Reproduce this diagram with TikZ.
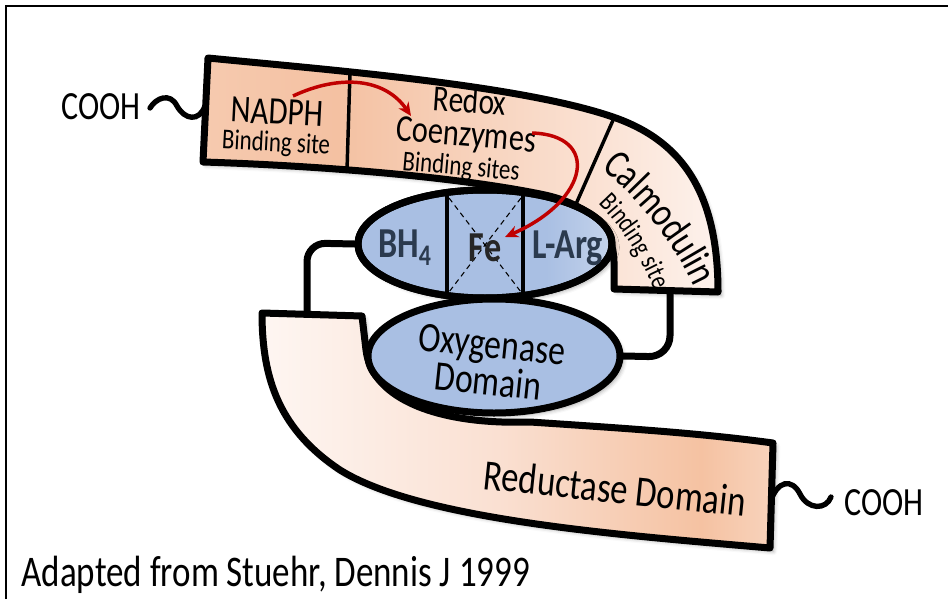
\documentclass[tikz,border=0pt]{standalone}
\usepackage{fontspec}
\setmainfont{Carlito}[FakeStretch=0.8]
\usetikzlibrary{shapes.geometric,arrows.meta,shadows.blur,decorations.text}
\definecolor{tbA}{HTML}{F6CAAF}
\definecolor{tbB}{HTML}{F4C1A2}
\definecolor{tbC}{HTML}{FBE4D7}
\definecolor{tbD}{HTML}{FDF2EC}
\definecolor{rbA}{HTML}{FEF6F2}
\definecolor{rbB}{HTML}{FAE0D2}
\definecolor{rbC}{HTML}{F5C2A2}
\definecolor{rbD}{HTML}{F8D3BC}
\definecolor{ellblue}{HTML}{A9BFE3}
\definecolor{ellL}{HTML}{C4D3EB}
\definecolor{darkred}{HTML}{C00000}
\definecolor{slate}{HTML}{2B3A4E}
\pgfdeclarehorizontalshading{topband}{100bp}{color(0bp)=(tbA); color(25bp)=(tbA); color(38bp)=(tbB); color(65bp)=(tbC); color(75bp)=(tbD); color(100bp)=(tbD)}
\pgfdeclarehorizontalshading{redband}{100bp}{color(0bp)=(rbA); color(25bp)=(rbA); color(48bp)=(rbB); color(68bp)=(rbC); color(75bp)=(rbD); color(100bp)=(rbD)}
\pgfdeclarehorizontalshading{topell}{100bp}{color(0bp)=(ellblue); color(62bp)=(ellblue); color(75bp)=(ellL); color(100bp)=(ellL)}
\pgfdeclarelayer{back}
\pgfdeclarelayer{mid}
\pgfsetlayers{back,mid,main}
\newcommand\setfs[1]{\fontsize{#1}{#1}\selectfont}
\newcommand\calmfont{\fontsize{31}{31}\selectfont}
\newcommand\calmbfont{\fontsize{20.5}{20.5}\selectfont}
\tikzset{
  outline/.style={draw=black, line width=5.25pt, line join=round},
  conn/.style={draw=black, line width=5.25pt, line cap=round},
  tail/.style={draw=black, line width=4pt, line cap=round},
  divider/.style={draw=black, line width=2.6pt},
  boxline/.style={draw=black, line width=3pt},
  diag/.style={draw=black, line width=0.8pt, dash pattern=on 4pt off 3pt},
  redarrow/.style={draw=darkred, line width=2.6pt, -{Stealth[length=10pt,width=9pt]}},
  softshadow/.style={blur shadow={shadow xshift=2.5pt, shadow yshift=-2.5pt, shadow blur radius=3pt, shadow opacity=35}},
  lbl/.style={inner sep=1pt, text=black},
  elllbl/.style={inner sep=1pt, text=slate, font=\bfseries\setfs{32}},
}
\begin{document}
\begin{tikzpicture}[x=0.75pt, y=-0.75pt]
\useasboundingbox (0,0) rectangle (948,599);
% frame
\draw[line width=1.5pt] (6,599) -- (6,6) -- (948,6);

% ellipses (main layer)
\node[ellipse, outline, softshadow, shading=topell, minimum width=190.5pt, minimum height=81pt, inner sep=0pt] (top) at (485,244) {};
\node[ellipse, outline, softshadow, fill=ellblue, minimum width=189pt, minimum height=85.5pt, inner sep=0pt] (oxy) at (494,356) {};

% Fe box
\coordinate (bxTL) at (447,193);
\coordinate (bxBL) at (447,296);
\coordinate (bxTR) at (523,193);
\coordinate (bxBR) at (523,296);
\draw[diag] (449,198) -- (521,292);
\draw[diag] (521,198) -- (449,292);
\draw[boxline] (bxTL) -- (bxBL);
\draw[boxline] (bxTR) -- (bxBR);
\draw[outline] (top.center) ellipse [x radius=127, y radius=54];

% bands (mid layer)
\begin{pgfonlayer}{mid}
\shadedraw[outline, softshadow, shading=redband]
  (262,313) -- (362,316) -- (366,350)
  .. controls (372,400) and (440,425) .. (530,422)
  .. controls (620,428) and (700,433) .. (773,443)
  -- (770,548)
  .. controls (620,535) and (420,520) .. (340,470)
  .. controls (280,430) and (262,380) .. cycle;
\shadedraw[outline, softshadow, shading=topband]
  (208,58) .. controls (330,70) and (520,85) .. (613,117)
  .. controls (680,140) and (718,190) .. (718,292)
  -- (614,289) -- (614,262)
  .. controls (614,230) and (590,205) .. (545,195)
  .. controls (450,175) and (300,165) .. (203,162) -- cycle;
\coordinate (d1t) at (350,72);
\coordinate (d1b) at (347,170);
\coordinate (d2t) at (614,118);
\coordinate (d2b) at (576,204);
\draw[divider] (d1t) -- (d1b);
\draw[divider] (d2t) -- (d2b);
\end{pgfonlayer}

% connectors and tails (back layer)
\coordinate (bhJoin) at (307,318);
\coordinate (cmJoin) at (670,288);
\coordinate (tailL) at (205,106);
\coordinate (tailLend) at (150,108);
\coordinate (tailR) at (770,503);
\coordinate (tailRend) at (831,497);
\begin{pgfonlayer}{back}
\draw[conn, rounded corners=14pt] (top.west) -- (307,243) -- (bhJoin);
\draw[conn, rounded corners=16pt] (cmJoin) -- (670,357) -- (oxy.east);
\draw[tail] (tailL) .. controls (199,122) and (185,120) .. (177,106)
  .. controls (170,92) and (156,98) .. (tailLend);
\draw[tail] (tailR) .. controls (777,480) and (792,478) .. (800,494)
  .. controls (808,510) and (826,510) .. (tailRend);
\end{pgfonlayer}

% texts
\node[lbl, font=\setfs{30}] (coohL) at (101,107) {COOH};
\node[lbl, font=\setfs{30}] (coohR) at (884,503) {COOH};
\node[lbl, font=\setfs{29}, rotate=-3] (nadph) at (277,112) {NADPH};
\node[lbl, font=\setfs{21.5}, rotate=-3] (nadphb) at (276,144) {Binding site};
\node[lbl, font=\setfs{27.5}, rotate=-4] (redox) at (470,100) {Redox};
\node[lbl, font=\setfs{28.5}, rotate=-5] (coenz) at (466,137) {Coenzymes};
\node[lbl, font=\setfs{21.5}, rotate=-5] (coenzb) at (461,168) {Binding sites};
\path[decorate, decoration={text along path, text={|\calmfont|Calmodulin}, text align=center}]
  (585,156) .. controls (634,190) and (682,250) .. (702,306);
\path[decorate, decoration={text along path, text={|\calmbfont|Binding site}, text align=center}]
  (582,190) .. controls (619,216) and (647,268) .. (662,310);
\node[elllbl] (bh4) at (405,248) {BH\textsubscript{4}};
\node[elllbl, text=black!85] (fe) at (485,248) {Fe};
\node[elllbl] (larg) at (568,248) {L-Arg};
\node[lbl, font=\fontsize{31.5}{27}\selectfont, rotate=-6, align=center] (oxylbl) at (490,363) {Oxygenase\\Domain};
\node[lbl, font=\setfs{32.5}, rotate=-6] (redlbl) at (615,488) {Reductase Domain};
\node[lbl, font=\setfs{32.8}, anchor=west] (credit) at (20,575) {Adapted from Stuehr, Dennis J 1999};

% red arrows
\coordinate (a1s) at (293,96);
\coordinate (a1e) at (411,116);
\coordinate (a2s) at (532,133);
\coordinate (a2e) at (505,237);
\draw[redarrow] (a1s) .. controls (340,74) and (385,78) .. (a1e);
\draw[redarrow] (a2s) .. controls (600,135) and (590,200) .. (a2e);
\end{tikzpicture}
\end{document}
